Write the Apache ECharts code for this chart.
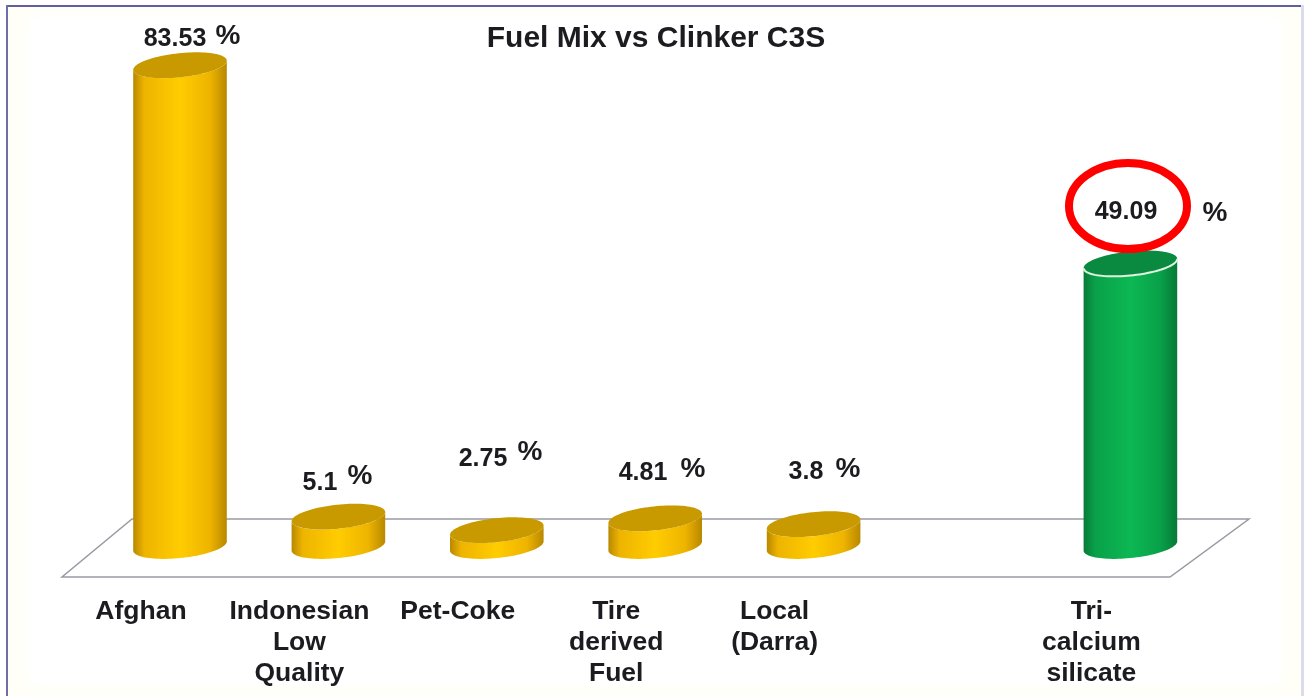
<!DOCTYPE html>
<html>
<head>
<meta charset="utf-8">
<style>
  html, body { margin: 0; padding: 0; background: #fff; font-family: 'Liberation Sans'; }
  #chart { width: 1304px; height: 696px; }
</style>
<script src="https://cdn.jsdelivr.net/npm/echarts@6/dist/echarts.min.js"></script>
</head>
<body>
<div id="chart"></div>
<script>
// Share of each fuel in the mix, plus the resulting C3S content of the clinker.
const categories = ['Afghan', 'Indonesian\nLow\nQuality', 'Pet-Coke', 'Tire\nderived\nFuel', 'Local\n(Darra)', '', 'Tri-\ncalcium\nsilicate'];
const percentages = [83.53, 5.1, 2.75, 4.81, 3.8, null, 49.09];
const chartTitle = 'Fuel Mix vs Clinker C3S';

// Hand placed value captions: [number x, number y, percent x, percent y].
const captionLayout = [
  [175, 39, 228, 36],
  [320, 483, 360, 476],
  [483, 459, 530, 452],
  [643, 473, 693, 469],
  [806, 472, 848, 469],
  null,
  [1126, 212, 1215, 213]
];

const FONT = 'Liberation Sans';
const INK = '#1c1c20';
const TILT = -6 * Math.PI / 180;
const GOLD = { edge: '#b88800', near: '#eeb400', mid: '#ffcc00', top: '#c99a00', rim: null };
const GREEN = { edge: '#067a38', near: '#09a049', mid: '#0cb853', top: '#0a8a40', rim: '#dff5df' };

// Point on a tilted ellipse at parameter t.
function ellipsePoint(cx, cy, rx, ry, t) {
  const px = rx * Math.cos(t), py = ry * Math.sin(t);
  return [
    cx + px * Math.cos(TILT) - py * Math.sin(TILT),
    cy + px * Math.sin(TILT) + py * Math.cos(TILT)
  ];
}

// Front half of the ellipse, running from the right extreme to the left one.
function frontArc(cx, cy, rx, ry) {
  const start = Math.atan(-(ry / rx) * Math.tan(TILT));
  const pts = [];
  for (let i = 0; i <= 48; i++) {
    pts.push(ellipsePoint(cx, cy, rx, ry, start + Math.PI * i / 48));
  }
  return pts;
}

function fullEllipse(cx, cy, rx, ry) {
  const pts = [];
  for (let i = 0; i < 96; i++) {
    pts.push(ellipsePoint(cx, cy, rx, ry, Math.PI * 2 * i / 96));
  }
  return pts;
}

// Draws one cylinder whose height comes from the value axis.
function renderCylinder(params, api) {
  const idx = api.value(0);
  const value = api.value(1);
  const top = api.coord([idx, value]);
  const base = api.coord([idx, 0]);
  const rx = api.size([1, 0])[0] * 0.297;
  const ry = 12;
  const palette = idx === 6 ? GREEN : GOLD;
  const cx = base[0];
  const bodyFill = new echarts.graphic.LinearGradient(0, 0, 1, 0, [
    { offset: 0, color: palette.edge },
    { offset: 0.12, color: palette.near },
    { offset: 0.5, color: palette.mid },
    { offset: 0.82, color: palette.near },
    { offset: 1, color: palette.edge }
  ]);
  const children = [
    {
      type: 'polygon',
      shape: { points: frontArc(cx, base[1], rx, ry).concat(frontArc(cx, top[1], rx, ry).reverse()) },
      style: { fill: bodyFill }
    },
    {
      type: 'polygon',
      shape: { points: fullEllipse(cx, top[1], rx, ry) },
      style: { fill: palette.top }
    }
  ];
  if (palette.rim) {
    children.push({
      type: 'polyline',
      shape: { points: frontArc(cx, top[1], rx, ry) },
      style: { stroke: palette.rim, lineWidth: 2, fill: 'none' }
    });
  }
  return { type: 'group', children };
}

// Number and percent sign above each mark, placed as separate texts.
function renderCaption(params, api) {
  const idx = api.value(0);
  const spot = captionLayout[idx];
  const numberText = String(percentages[idx]);
  return {
    type: 'group',
    children: [
      {
        type: 'text',
        style: {
          x: spot[0], y: spot[1], text: numberText, align: 'center', verticalAlign: 'middle',
          fill: INK, fontFamily: FONT, fontWeight: 'bold', fontSize: 25
        }
      },
      {
        type: 'text',
        style: {
          x: spot[2], y: spot[3], text: '%', align: 'center', verticalAlign: 'middle',
          fill: INK, fontFamily: FONT, fontWeight: 'bold', fontSize: 28
        }
      }
    ]
  };
}

const seriesData = percentages
  .map((v, i) => [i, v])
  .filter(d => d[1] !== null);

const chart = echarts.init(document.getElementById('chart'), null, { renderer: 'canvas' });
chart.setOption({
  animation: false,
  backgroundColor: '#ffffff',
  textStyle: { fontFamily: FONT },
  title: {
    text: chartTitle,
    left: 651,
    top: 19,
    textAlign: 'center',
    textStyle: { fontFamily: FONT, fontWeight: 'bold', fontSize: 30, color: INK }
  },
  grid: { left: 100.8, width: 1108.8, top: 28, height: 518 },
  xAxis: {
    type: 'category',
    data: categories,
    axisLine: { show: false },
    axisTick: { show: false },
    axisLabel: {
      interval: 0,
      margin: 50,
      padding: [0, 78, 0, 0],
      lineHeight: 31,
      fontFamily: FONT,
      fontWeight: 'bold',
      fontSize: 26.5,
      color: INK
    }
  },
  yAxis: {
    type: 'value',
    min: 0,
    max: 90,
    show: false
  },
  graphic: [
    // Page panel with a faint cream margin and a thin frame
    { type: 'rect', z: -5, shape: { x: 7, y: 6, width: 1294, height: 690 }, style: { fill: '#fffff8' } },
    { type: 'rect', z: -4, shape: { x: 30, y: 18, width: 1250, height: 666 }, style: { fill: '#ffffff', shadowBlur: 18, shadowColor: '#ffffff' } },
    { type: 'rect', z: -3, shape: { x: 6, y: 5, width: 1295, height: 2 }, style: { fill: '#5f5e9e' } },
    { type: 'rect', z: -3, shape: { x: 6, y: 5, width: 2, height: 691 }, style: { fill: '#6f6ea8' } },
    { type: 'rect', z: -3, shape: { x: 1301, y: 5, width: 3, height: 691 }, style: { fill: '#dcdcef' } },
    // Floor the cylinders stand on
    {
      type: 'polygon',
      z: 0,
      shape: { points: [[62, 577], [1170, 577], [1249, 519], [132, 519]] },
      style: { fill: '#ffffff', stroke: '#9a9aa4', lineWidth: 1.5 }
    },
    // Red ring around the C3S figure
    {
      type: 'ellipse',
      z: 20,
      shape: { cx: 1128, cy: 206, rx: 59, ry: 43 },
      style: { fill: 'none', stroke: '#ff0000', lineWidth: 8 }
    }
  ],
  series: [
    {
      type: 'custom',
      name: 'Cylinders',
      z: 5,
      clip: false,
      data: seriesData,
      encode: { x: 0, y: 1 },
      renderItem: renderCylinder
    },
    {
      type: 'custom',
      name: 'Captions',
      z: 6,
      clip: false,
      silent: true,
      data: seriesData,
      encode: { x: 0, y: 1 },
      renderItem: renderCaption
    }
  ]
});
</script>
</body>
</html>
